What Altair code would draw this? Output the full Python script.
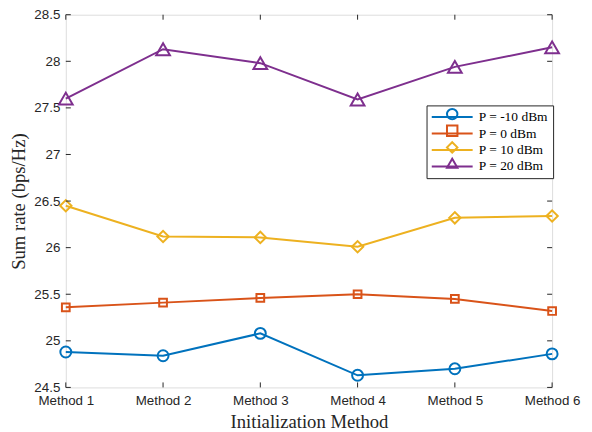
import altair as alt
import pandas as pd

methods = ["Method 1", "Method 2", "Method 3", "Method 4", "Method 5", "Method 6"]
series = ["P = -10 dBm", "P = 0 dBm", "P = 10 dBm", "P = 20 dBm"]
p_m10 = [24.88, 24.84, 25.08, 24.63, 24.70, 24.86]
p_0 = [25.36, 25.41, 25.46, 25.50, 25.45, 25.32]
p_10 = [26.45, 26.12, 26.11, 26.01, 26.32, 26.34]
p_20 = [27.60, 28.13, 27.98, 27.59, 27.94, 28.15]
y_ticks = [24.5, 25, 25.5, 26, 26.5, 27, 27.5, 28, 28.5]

colors = ["#0072BD", "#D95319", "#EDB120", "#7E2F8E"]
shapes = ["circle", "square", "diamond", "triangle-up"]
marker_sizes = [120, 60, 130, 190]

rows = []
for name, vals, ms in zip(series, [p_m10, p_0, p_10, p_20], marker_sizes):
    for m, v in zip(methods, vals):
        rows.append({"method": m, "series": name, "series_l": name, "value": v, "msize": ms})
df = pd.DataFrame(rows)

W, H = 488, 374
axis_col = "#262626"

xscale = alt.Scale(type="point", domain=methods, padding=0)
yscale = alt.Scale(domain=[24.5, 28.5], nice=False, zero=False)

x_axis = alt.Axis(title="Initialization Method", labelAngle=0, ticks=False,
                  domain=False, grid=False, labelFont="Liberation Sans",
                  labelFontSize=13.4, labelColor=axis_col, labelPadding=6,
                  titleFont="Liberation Serif", titleFontSize=18.7,
                  titleFontWeight="normal", titleColor=axis_col, titlePadding=6)
y_axis = alt.Axis(title="Sum rate (bps/Hz)", values=y_ticks, format="~g",
                  ticks=False, domain=False, grid=False,
                  labelFont="Liberation Sans", labelFontSize=13.4,
                  labelColor=axis_col, labelPadding=6,
                  titleFont="Liberation Serif", titleFontSize=18.7,
                  titleFontWeight="normal", titleColor=axis_col, titlePadding=5)

# legend drawn by the lines (box, line stubs and labels)
line_legend = alt.Legend(title=None, orient="none", legendX=362, legendY=91,
                         fillColor="white", strokeColor=axis_col, padding=5,
                         labelFont="Liberation Serif", labelFontSize=13.5,
                         labelColor="black", labelOffset=20, labelLimit=0,
                         symbolType="M-3.73,0H3.73", symbolSize=121,
                         symbolStrokeWidth=2, symbolOffset=14,
                         rowPadding=1.5, cornerRadius=0)
# legend drawn by the markers, laid over the line legend
mark_legend = alt.Legend(title=None, orient="none", legendX=381, legendY=93,
                         padding=0, labelFontSize=13.5, labelExpr="''",
                         symbolStrokeWidth=2, symbolSize=110,
                         rowPadding=-2.3)

base = alt.Chart(df)
lines = base.mark_line(strokeWidth=2).encode(
    x=alt.X("method:N", scale=xscale, sort=methods, axis=x_axis),
    y=alt.Y("value:Q", scale=yscale, axis=y_axis),
    color=alt.Color("series_l:N", sort=series, scale=alt.Scale(range=colors),
                    legend=line_legend))
points = base.mark_point(filled=False, strokeWidth=2, opacity=1).encode(
    x=alt.X("method:N", scale=xscale, sort=methods, axis=x_axis),
    y=alt.Y("value:Q", scale=yscale, axis=y_axis),
    stroke=alt.Stroke("series:N", scale=alt.Scale(domain=series, range=colors),
                      legend=mark_legend),
    shape=alt.Shape("series:N", scale=alt.Scale(domain=series, range=shapes),
                    legend=mark_legend),
    size=alt.Size("msize:Q", scale=None, legend=None))

ydf = pd.DataFrame({"value": y_ticks})
xdf = pd.DataFrame({"method": methods})
ytl = alt.Chart(ydf).mark_rule(color=axis_col, strokeWidth=1).encode(
    y=alt.Y("value:Q", scale=yscale, axis=y_axis), x=alt.value(0), x2=alt.value(5))
ytr = alt.Chart(ydf).mark_rule(color=axis_col, strokeWidth=1).encode(
    y=alt.Y("value:Q", scale=yscale, axis=y_axis), x=alt.value(W - 5), x2=alt.value(W))
xtb = alt.Chart(xdf).mark_rule(color=axis_col, strokeWidth=1).encode(
    x=alt.X("method:N", scale=xscale, sort=methods, axis=x_axis), y=alt.value(H - 5), y2=alt.value(H))
xtt = alt.Chart(xdf).mark_rule(color=axis_col, strokeWidth=1).encode(
    x=alt.X("method:N", scale=xscale, sort=methods, axis=x_axis), y=alt.value(0), y2=alt.value(5))

chart = alt.layer(lines, points, ytl, ytr, xtb, xtt).properties(
    width=W, height=H,
    autosize=alt.AutoSizeParams(type="none"),
    padding={"left": 58, "top": 6, "right": 32, "bottom": 44},
).configure_view(stroke=axis_col, strokeWidth=1).configure(background="white")

chart.save("out.html", embed_options={"renderer": "svg", "actions": False})
